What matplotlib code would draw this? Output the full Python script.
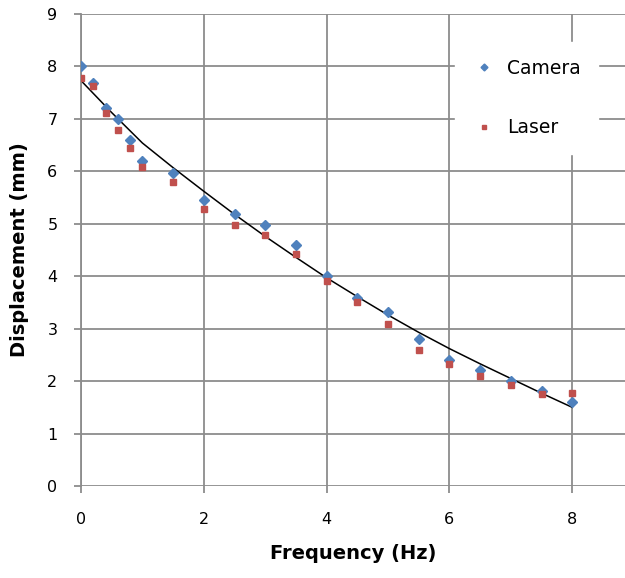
import matplotlib
matplotlib.use("Agg")
import matplotlib.pyplot as plt

# frequency steps (Hz)
freq = [0, 0.2, 0.4, 0.6, 0.8, 1.0, 1.5, 2.0, 2.5, 3.0, 3.5, 4.0,
        4.5, 5.0, 5.5, 6.0, 6.5, 7.0, 7.5, 8.0]

# displacement (mm)
camera = [8.0, 7.69, 7.2, 7.0, 6.59, 6.19, 5.97, 5.46, 5.18, 4.97, 4.6, 4.0,
          3.59, 3.31, 2.81, 2.41, 2.22, 2.01, 1.82, 1.61]
laser = [7.78, 7.63, 7.11, 6.79, 6.45, 6.09, 5.79, 5.29, 4.97, 4.79, 4.42, 3.91,
         3.5, 3.09, 2.6, 2.33, 2.1, 1.92, 1.76, 1.78]

# trend line
trend_x = [0, 0.5, 1.0, 1.5, 2.0, 2.5, 3.0, 3.5, 4.0, 4.5, 5.0,
           5.5, 6.0, 6.5, 7.0, 7.5, 8.0]
trend_y = [7.73, 7.12, 6.54, 6.07, 5.62, 5.18, 4.76, 4.36, 3.97, 3.61, 3.26,
           2.93, 2.62, 2.33, 2.05, 1.77, 1.50]

xticks = [0, 2, 4, 6, 8]
yticks = list(range(10))

grid_col = "#8c8c8c"

fig = plt.figure(figsize=(6.25, 5.78), dpi=100)
ax = fig.add_axes([81 / 625, 92 / 578, 1 - 81 / 625, 472 / 578])

ax.plot(trend_x, trend_y, color="black", lw=1.1, zorder=2)
ax.plot(freq, camera, "D", color="#4F81BD", ms=5, ls="none", label="Camera", zorder=3)
ax.plot(freq, laser, "s", color="#C0504D", ms=5, ls="none", label="Laser", zorder=3)

ax.set_xlim(0, 544 / 61.4)
ax.set_ylim(0, 9)
ax.set_xticks(xticks)
ax.set_yticks(yticks)
ax.grid(True, color=grid_col, lw=1.3)
ax.set_axisbelow(True)

for s in ["top", "right", "bottom"]:
    ax.spines[s].set_visible(False)
ax.spines["left"].set_color(grid_col)
ax.spines["left"].set_linewidth(1.3)
ax.tick_params(axis="both", color=grid_col, length=5, width=1.3, labelsize=11.5)
ax.tick_params(axis="x", pad=14)
ax.tick_params(axis="y", pad=12)

ax.set_xlabel("Frequency (Hz)", fontsize=14, fontweight="bold", labelpad=12)
ax.set_ylabel("Displacement (mm)", fontsize=14, fontweight="bold", labelpad=13)

leg = ax.legend(loc="upper left", bbox_to_anchor=(455 / 625, 1 - 42 / 578),
                bbox_transform=fig.transFigure, fontsize=13.5, frameon=True,
                fancybox=False, edgecolor="white", framealpha=1,
                labelspacing=2.15, handlelength=1.3, handletextpad=0.6,
                borderpad=0.9, markerscale=0.7, borderaxespad=0)

fig.savefig("out.png", dpi=100)
